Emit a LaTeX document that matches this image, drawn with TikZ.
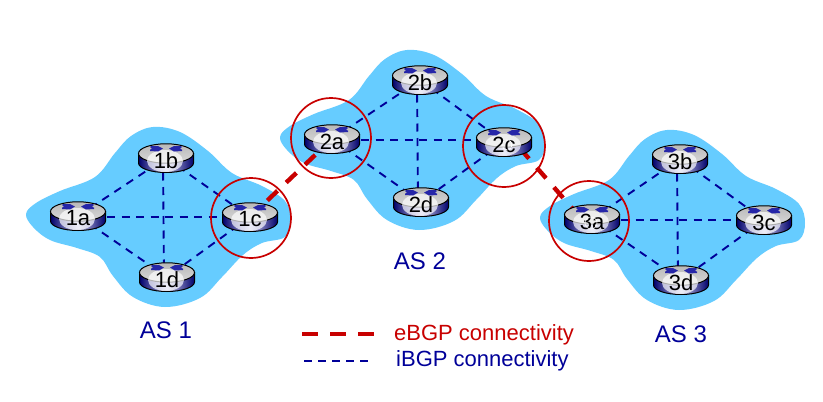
\documentclass[tikz,border=0pt]{standalone}
\usepackage{fontspec}
\setmainfont{Liberation Sans}
\usetikzlibrary{calc}
\definecolor{asblue}{HTML}{66CCFF}
\definecolor{ebgp}{HTML}{C80000}
\definecolor{ibgp}{HTML}{000099}
\tikzset{
  blob/.style={fill=asblue,draw=none},
  ibgpline/.style={draw=ibgp,line width=1.9pt,dash pattern=on 8pt off 6.5pt},
  ebgpline/.style={draw=ebgp,line width=4.4pt,dash pattern=on 14pt off 12pt},
  ringmark/.style={draw=ebgp,line width=1.7pt,fill=none,circle,inner sep=0pt},
  rlabel/.style={inner sep=0pt,font=\fontsize{22}{22}\selectfont,text=black},
  aslabel/.style={inner sep=0pt,font=\fontsize{24}{24}\selectfont,text=ibgp},
  legendtext/.style={inner sep=0pt,anchor=west,font=\fontsize{22}{22}\selectfont},
  tiny arrow/.style={draw=none,fill=ibgp!85!white}
}
\newcommand{\asblob}[2]{%
  \path[blob,shift={(#1,#2)}] plot[smooth cycle,tension=0.6] coordinates {
   (26,214) (36,203) (60,191) (95,177) (115,153) (131,136) (153,127) (180,132) (208,151)
   (232,173) (262,186) (285,201) (291,220) (285,237) (262,243) (243,255) (222,277) (200,298)
   (165,307) (133,297) (113,276) (100,257) (77,248) (50,240) (33,227)};}
\newcommand{\routerart}[2]{%
  \begin{scope}[shift={(#1,#2)}]
    \path[draw=black,line width=1pt,left color=ibgp!70!black,right color=ibgp!70!black,middle color=ibgp!22!white]
      (-27.5,-4.5) -- (-27.5,5) arc[start angle=180,end angle=0,x radius=27.5,y radius=9.5] -- (27.5,-4.5) -- cycle;
    \path[draw=black,line width=1pt,top color=gray!55,bottom color=gray!30]
      (0,-4.5) ellipse[x radius=27.5,y radius=9.7];
    \path[fill=white,fill opacity=.68] (-1,3) ellipse[x radius=18,y radius=11];
    \path[tiny arrow] (-3,-9.5) -- (-8,-6.5) -- (-16,-7) -- (-16,-8.3) -- (-14,-9.5) -- (-16,-11) -- (-15,-12) -- (-8,-12) -- cycle;
    \path[tiny arrow] (3,-9.5) -- (8,-6.5) -- (16,-7) -- (16,-8.3) -- (14,-9.5) -- (16,-11) -- (15,-12) -- (8,-12) -- cycle;
  \end{scope}}
\begin{document}
\begin{tikzpicture}[x=1pt,y=-1pt]
\useasboundingbox (0,0) rectangle (823,402);
\fill[white] (0,0) rectangle (823,402);
\asblob{0}{0}
\asblob{254}{-77}
\asblob{514}{3}
\coordinate (1a) at (78,216);
\coordinate (1b) at (166,158);
\coordinate (1c) at (250,217);
\coordinate (1d) at (167,277);
\coordinate (2a) at (332,139);
\coordinate (2b) at (420,80);
\coordinate (2c) at (504,142);
\coordinate (2d) at (421,202);
\coordinate (3a) at (592,219);
\coordinate (3b) at (680,159);
\coordinate (3c) at (764,220);
\coordinate (3d) at (681,280);
% eBGP
\draw[ebgpline,dash phase=2pt] (1c) -- (2a);
\draw[ebgpline,dash phase=2pt] ($(2c)+(0,-12)$) -- ($(3a)+(0,12)$);
% iBGP
\foreach \n in {1,2,3}{
  \draw[ibgpline] (\n a) -- (\n b);
  \draw[ibgpline] (\n a) -- (\n d);
  \draw[ibgpline] (\n b) -- (\n c);
  \draw[ibgpline] (\n c) -- (\n d);
  \draw[ibgpline] ($(\n a)+(0,1)$) -- (\n c |- {$(\n a)+(0,1)$});
  \draw[ibgpline] ($(\n b)+(-3,0)$) -- ($(\n d)+(-3,0)$);
}
% routers
\routerart{78}{216}\routerart{166}{158}\routerart{250}{217}\routerart{167}{277}
\routerart{332}{139}\routerart{420}{80}\routerart{504}{142}\routerart{421}{202}
\routerart{592}{219}\routerart{680}{159}\routerart{764}{220}\routerart{681}{280}
\foreach \n in {1a,1b,1c,1d,2a,2b,2c,2d,3a,3b,3c,3d}{
  \node[rlabel] (lab\n) at ($(\n)+(0,2.5)$) {\n};
}
% glitches on 2c and 3a labels
\draw[white,line width=.9pt,dash pattern=on 2pt off 1.6pt] (507,145) circle[radius=5];
\draw[white,line width=.7pt,opacity=.8] (591,223) circle[radius=6];
% rings
\node[ringmark,minimum size=80pt] (r1c) at (251,218) {};
\node[ringmark,minimum size=80pt] (r2a) at (331,138) {};
\node[ringmark,minimum size=82pt] (r2c) at (504,146) {};
\node[ringmark,minimum size=80pt] (r3a) at (589,221) {};
% AS labels
\node[aslabel] (as1) at (166,330) {AS 1};
\node[aslabel] (as2) at (420,261) {AS 2};
\node[aslabel] (as3) at (681,334) {AS 3};
% legend
\coordinate (e1) at (302,334);
\coordinate (e2) at (374,334);
\coordinate (i1) at (304,361);
\coordinate (i2) at (369,361);
\draw[draw=ebgp,line width=4.2pt,dash pattern=on 16pt off 12pt] (e1) -- (e2);
\draw[draw=ibgp,line width=1.9pt,dash pattern=on 8pt off 6pt] (i1) -- (i2);
\node[legendtext,text=ebgp] (etext) at (394,335) {eBGP connectivity};
\node[legendtext,text=ibgp] (itext) at (396,361) {iBGP connectivity};
\end{tikzpicture}
\end{document}
